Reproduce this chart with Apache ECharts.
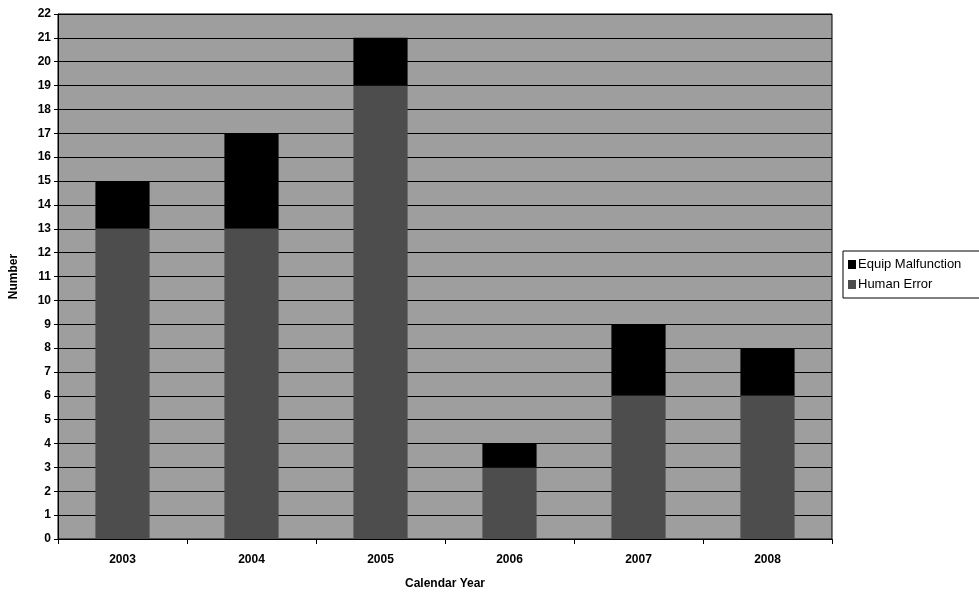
<!DOCTYPE html>
<html><head><meta charset="utf-8">
<script src="https://cdn.jsdelivr.net/npm/echarts@6/dist/echarts.min.js"></script>
<style>html,body{margin:0;padding:0;background:#fff}#c{width:979px;height:593px}</style>
</head><body><div id="c"></div>
<script>
var years = ['2003','2004','2005','2006','2007','2008'];
var humanError = [13, 13, 19, 3, 6, 6];
var equipMalfunction = [2, 4, 2, 1, 3, 2];
var yTicks = {min: 0, max: 22, interval: 1};

var chart = echarts.init(document.getElementById('c'));
var font = 'Arial, "Liberation Sans", sans-serif';
chart.setOption({
  animation: false,
  backgroundColor: '#ffffff',
  grid: {left: 58, top: 14, width: 774, height: 525, outerBoundsMode: 'none', containLabel: false,
         show: true, backgroundColor: '#9e9e9e', borderColor: '#000', borderWidth: 1},
  legend: {
    orient: 'vertical', left: 843, top: 251, itemWidth: 8, itemHeight: 9, itemGap: 7,
    padding: [7, 30, 7, 5], borderColor: '#000', borderWidth: 1, backgroundColor: '#fff',
    textStyle: {fontFamily: font, fontSize: 13, color: '#000', padding: [0, 0, 0, -3]},
    data: [{name: 'Equip Malfunction', icon: 'rect'}, {name: 'Human Error', icon: 'rect'}]
  },
  xAxis: {
    type: 'category', data: years, boundaryGap: true,
    name: 'Calendar Year', nameLocation: 'middle', nameGap: 39,
    nameTextStyle: {fontFamily: font, fontSize: 12, fontWeight: 'bold', color: '#000'},
    axisLine: {lineStyle: {color: '#000', width: 1}},
    axisTick: {show: true, length: 5, lineStyle: {color: '#000'}},
    axisLabel: {fontFamily: font, fontSize: 12, fontWeight: 'bold', color: '#000', margin: 15}
  },
  yAxis: {
    type: 'value', min: yTicks.min, max: yTicks.max, interval: yTicks.interval,
    name: 'Number', nameLocation: 'middle', nameGap: 38, nameRotate: 90,
    nameTextStyle: {fontFamily: font, fontSize: 12, fontWeight: 'bold', color: '#000'},
    axisLine: {show: true, lineStyle: {color: '#000', width: 1}},
    axisTick: {show: true, length: 4, lineStyle: {color: '#000'}},
    axisLabel: {fontFamily: font, fontSize: 12, fontWeight: 'bold', color: '#000', margin: 7},
    splitLine: {show: true, lineStyle: {color: '#000', width: 1}}
  },
  series: [
    {name: 'Human Error', type: 'bar', stack: 'a', data: humanError, barWidth: '42%',
     itemStyle: {color: '#4d4d4d'}},
    {name: 'Equip Malfunction', type: 'bar', stack: 'a', data: equipMalfunction, barWidth: '42%',
     itemStyle: {color: '#000000'}}
  ]
});
</script></body></html>
